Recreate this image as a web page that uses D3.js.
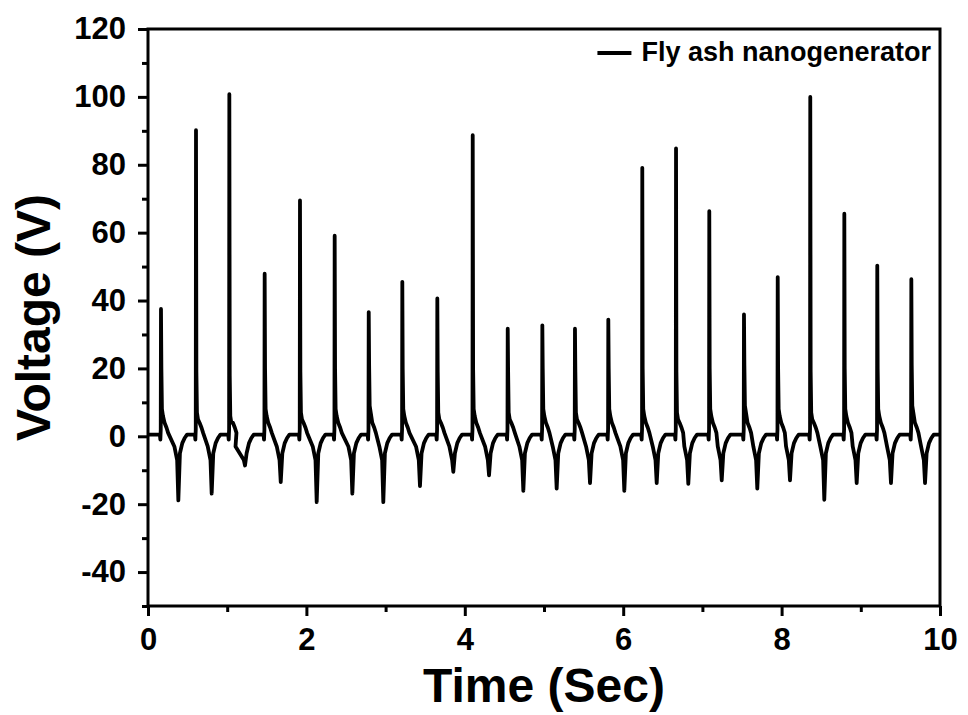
<!DOCTYPE html>
<html>
<head>
<meta charset="utf-8">
<script src="https://cdn.jsdelivr.net/npm/d3@7"></script>
<style>
  body { margin: 0; background: #fff; }
  text { font-family: "Liberation Sans", Arial, sans-serif; font-weight: bold; fill: #000; }
</style>
</head>
<body>
<div id="chart"></div>
<script>
// peaks of each pulse (time in s, voltage in V)
const peakT = [0.164, 0.606, 1.027, 1.473, 1.919, 2.357, 2.787, 3.211, 3.653, 4.100, 4.542, 4.979,
               5.391, 5.812, 6.241, 6.667, 7.087, 7.525, 7.951, 8.362, 8.792, 9.208, 9.638];
const peakV = [37.5, 90.2, 100.8, 47.9, 69.5, 59.1, 36.6, 45.5, 40.6, 88.7, 31.7, 32.7,
               31.7, 34.4, 79.1, 84.8, 66.3, 35.9, 46.9, 100.0, 65.6, 50.3, 46.3];
// shoulder just after each peak
const shoulderV = [8, 7, 6, 8, 7, 8, 9, 8, 7, 8, 7, 8, 7, 8, 8, 7, 8, 9, 8, 7, 8, 8, 9];
// negative swing after each pulse
const dipT = [0.383, 0.804, 1.225, 1.676, 2.130, 2.580, 2.971, 3.434, 3.855, 4.306, 4.739, 5.160,
              5.581, 6.014, 6.423, 6.822, 7.244, 7.693, 8.106, 8.539, 8.948, 9.381, 9.811];
const dipV = [-18.9, -16.9, -8.6, -13.5, -19.4, -16.9, -19.4, -14.7, -10.5, -11.5, -16.1, -15.4,
              -13.8, -16.1, -13.8, -14.0, -13.0, -15.4, -13.0, -18.7, -13.8, -13.8, -13.8];
const dipW = [0.05, 0.05, 0.12, 0.05, 0.05, 0.05, 0.05, 0.05, 0.05, 0.05, 0.05, 0.05,
              0.05, 0.05, 0.05, 0.05, 0.05, 0.05, 0.05, 0.05, 0.05, 0.05, 0.05];

const xTicks = [0, 2, 4, 6, 8, 10];
const yTicks = [-40, -20, 0, 20, 40, 60, 80, 100, 120];
const legendLabel = "Fly ash nanogenerator";

// build the trace from the read points
let trace = [[0, 0.5]];
for (let i = 0; i < peakT.length; i++) {
  let p = peakT[i], d = dipT[i];
  trace.push([p - 0.014, 0.5]);
  trace.push([p - 0.008, -1]);
  trace.push([p - 0.003, 2]);
  trace.push([p, peakV[i]]);
  trace.push([p + 0.005, shoulderV[i] + 12]);
  trace.push([p + 0.012, shoulderV[i]]);
  trace.push([p + 0.025, shoulderV[i] - 2]);
  trace.push([p + 0.045, 4]);
  trace.push([p + 0.07, 2.5]);
  trace.push([p + 0.09, 1]);
  trace.push([d - dipW[i], -3]);
  trace.push([d - 0.015, -7]);
  trace.push([d, dipV[i]]);
  trace.push([d + 0.02, -5]);
  trace.push([d + 0.05, -2]);
  trace.push([d + 0.08, -0.5]);
  trace.push([d + 0.11, 0.5]);
}
trace.push([10, 0.5]);

const W = 968, H = 715;
const svg = d3.select("#chart").append("svg")
  .attr("width", W).attr("height", H);

const x = d3.scaleLinear().domain([0, 10]).range([148, 940]);
const y = d3.scaleLinear().domain([-50, 120]).range([606, 29]);

// data line
const line = d3.line().x(d => x(d[0])).y(d => y(d[1]));
svg.append("path")
  .datum(trace)
  .attr("d", line)
  .attr("fill", "none")
  .attr("stroke", "#000")
  .attr("stroke-width", 3.8)
  .attr("stroke-linejoin", "round");

// frame
svg.append("rect")
  .attr("x", x(0)).attr("y", y(120))
  .attr("width", x(10) - x(0)).attr("height", y(-50) - y(120))
  .attr("fill", "none").attr("stroke", "#000").attr("stroke-width", 3);

// bottom axis
svg.append("g")
  .attr("transform", "translate(0," + y(-50) + ")")
  .call(d3.axisBottom(x).tickValues(xTicks).tickSize(10).tickPadding(12).tickFormat(d => d));
svg.append("g")
  .attr("transform", "translate(0," + y(-50) + ")")
  .call(d3.axisBottom(x).tickValues(d3.range(1, 10, 2)).tickSize(6).tickFormat(""));

// left axis
svg.append("g")
  .attr("transform", "translate(" + x(0) + ",0)")
  .call(d3.axisLeft(y).tickValues(yTicks).tickSize(10).tickPadding(12).tickFormat(d => d));
svg.append("g")
  .attr("transform", "translate(" + x(0) + ",0)")
  .call(d3.axisLeft(y).tickValues(d3.range(-50, 120, 10).filter(v => v % 20 != 0)).tickSize(6).tickFormat(""));

svg.selectAll(".domain").remove();
svg.selectAll(".tick line").attr("stroke", "#000").attr("stroke-width", 3);
svg.selectAll(".tick text")
  .style("font-family", "'Liberation Sans', Arial, sans-serif")
  .style("font-weight", "bold")
  .style("font-size", "31px")
  .attr("fill", "#000");

// axis titles, centred on the plot frame
svg.append("text")
  .attr("x", (x(0) + x(10)) / 2).attr("y", 702)
  .attr("text-anchor", "middle")
  .style("font-size", "48px")
  .text("Time (Sec)");

svg.append("text")
  .attr("transform", "translate(50," + (y(-50) + y(120)) / 2 + ") rotate(-90)")
  .attr("text-anchor", "middle")
  .style("font-size", "48px")
  .text("Voltage (V)");

// legend
const legText = svg.append("text")
  .attr("x", 931).attr("y", 61)
  .attr("text-anchor", "end")
  .style("font-size", "27px")
  .text(legendLabel);
const legStart = 931 - legText.node().getComputedTextLength();
svg.append("line")
  .attr("x1", legStart - 44).attr("x2", legStart - 10).attr("y1", 53).attr("y2", 53)
  .attr("stroke", "#000").attr("stroke-width", 3.8);
</script>
</body>
</html>
